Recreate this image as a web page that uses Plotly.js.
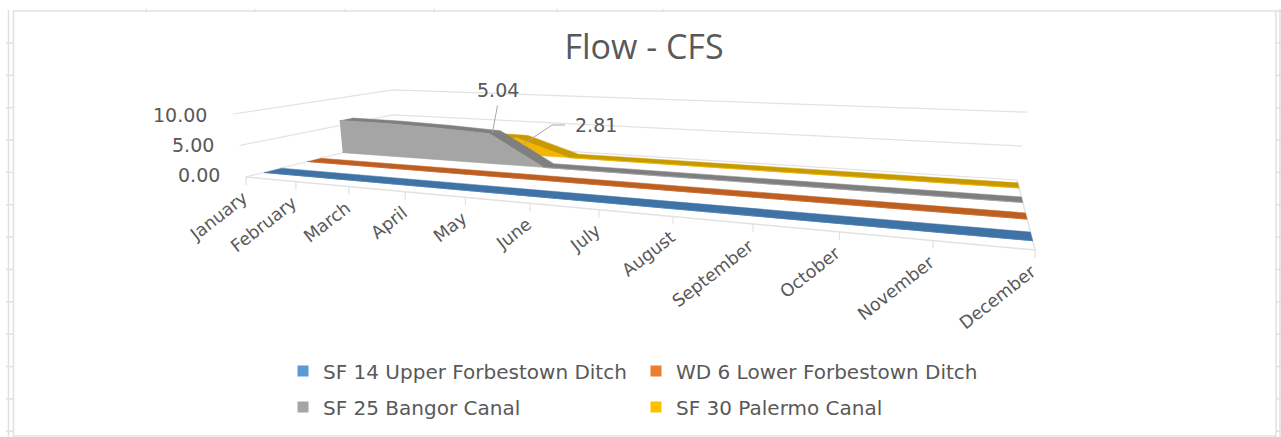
<!DOCTYPE html>
<html><head><meta charset="utf-8">
<script src="https://cdn.plot.ly/plotly-3.0.1.min.js"></script>
<style>html,body{margin:0;padding:0;background:#fff}#c{width:1281px;height:437px}</style></head>
<body><div id="c"></div>
<script>
const months=["January","February","March","April","May","June","July","August","September","October","November","December"];
const sf14=[0,0,0,0,0,0,0,0,0,0,0,0];
const wd6=[0,0,0,0,0,0,0,0,0,0,0,0];
const sf25=[5.9,5.8,5.5,5.04,0,0,0,0,0,0,0,0];
const sf30=[3.1,3.0,2.9,2.81,0,0,0,0,0,0,0,0];
const names=["SF 14 Upper Forbestown Ditch","WD 6 Lower Forbestown Ditch","SF 25 Bangor Canal","SF 30 Palermo Canal"];
const valueTicks=[0,5,10];
const swatch=["#5B9BD5","#ED7D31","#A5A5A5","#FFC000"];
const frontCol=["#4a7fb0","#c9662a","#A5A5A5","#F2B600"];
const topCol=["#3F72A5","#BE5F22","#7F7F7F","#C99A00"];
const bands=[[.10,.20],[.365,.45],[.605,.695],[.85,.945]];
const ink="#595959", rule="#e2e2e2", face="DejaVu Sans";

// oblique perspective of the Excel 3-D box: u = month 0..1, s = depth 0..1, v = value
const C={x0:246,y0:177,ax:0,ay:0,bx:0,by:0,g:0,h:0};
(function(){const [x0,y0,x1,y1,x2,y2,x3,y3]=[246,177,1035,250,1017,180,393,140];
 const d1x=x1-x2,d2x=x3-x2,sx=x0-x1+x2-x3,d1y=y1-y2,d2y=y3-y2,sy=y0-y1+y2-y3,det=d1x*d2y-d2x*d1y;
 C.g=(sx*d2y-d2x*sy)/det;C.h=(d1x*sy-sx*d1y)/det;
 C.ax=x1-x0+C.g*x1;C.bx=x3-x0+C.h*x3;C.ay=y1-y0+C.g*y1;C.by=y3-y0+C.h*y3;})();
function project(m,s,v){let u=m/11;u=u+.04*s*u*(1-u);const w=1+C.g*u+C.h*s;
 const x=(C.ax*u+C.bx*s+C.x0)/w,y=(C.ay*u+C.by*s+C.y0)/w;
 const lean=(1-u)*((1-s)*-1.3)+u*((1-s)*1.4+s*1.0);
 return [x+lean*v,y-6.3*v/w];}
function path(pts){return {x:pts.map(p=>p[0]),y:pts.map(p=>p[1])};}
function line(pts,color,width){return Object.assign(path(pts),{type:"scatter",mode:"lines",line:{color,width},hoverinfo:"skip",showlegend:false});}
function fill(pts,color){return Object.assign(path(pts),{type:"scatter",mode:"lines",fill:"toself",fillcolor:color,line:{color,width:.5},hoverinfo:"skip",showlegend:false});}

const traces=[];
// back wall and side wall gridlines
valueTicks.forEach(v=>{traces.push(line([project(0,0,v),project(0,1,v),project(11,1,v)],rule,1.2));});
// floor edges and month ticks
traces.push(line([project(0,0,0),project(11,0,0),project(11,1,0)],rule,1.5));
months.forEach((m,i)=>{const p=project(i,0,0);traces.push(line([p,[p[0],p[1]+8]],rule,1.2));});

const series=[sf14,wd6,sf25,sf30];
[3,2,1,0].forEach(k=>{const vals=series[k],[a,b]=bands[k];
 const frontEdge=vals.map((v,i)=>project(i,a,v)),backEdge=vals.map((v,i)=>project(i,b,v));
 traces.push(fill(frontEdge.concat(backEdge.slice().reverse()),topCol[k]));
 const base=vals.map((v,i)=>project(i,a,0)).reverse();
 traces.push(fill(frontEdge.concat(base),frontCol[k]));
});
// data-label leaders
const pa=project(3,bands[2][0],sf25[3]);
traces.push(line([[pa[0]+3,pa[1]-1],[pa[0]+8,pa[1]-28]],"#a6a6a6",1));
traces.push(line([[522,145],[552,125],[565,125]],"#a6a6a6",1));
// legend entries
names.forEach((n,i)=>traces.push({x:[null],y:[null],type:"scatter",mode:"markers",name:n,legend:i<2?"legend":"legend2",
 marker:{symbol:"square",size:11,color:swatch[i]},hoverinfo:"skip",showlegend:true}));

const anns=[];
months.forEach((m,i)=>{const p=project(i,0,0);
 anns.push({x:p[0]+8,y:p[1]+8,xref:"x",yref:"y",text:m,showarrow:false,textangle:-38,xanchor:"right",yanchor:"top",font:{family:face,size:17.5,color:ink}});});
valueTicks.forEach(v=>{const p=project(0,0,v);
 anns.push({x:p[0]-24,y:p[1]-2+.3*v,xref:"x",yref:"y",text:v.toFixed(2),showarrow:false,xanchor:"right",yanchor:"middle",font:{family:face,size:19,color:ink}});});
anns.push({x:498,y:90,xref:"x",yref:"y",text:sf25[3].toFixed(2),showarrow:false,font:{family:face,size:19,color:ink}});
anns.push({x:596,y:125,xref:"x",yref:"y",text:sf30[3].toFixed(2),showarrow:false,font:{family:face,size:19,color:ink}});

// spreadsheet frame behind the chart
const shapes=[];
const seg=(x0,y0,x1,y1)=>shapes.push({type:"line",xref:"x",yref:"y",x0,y0,x1,y1,line:{color:"#e0e0e0",width:1.5},layer:"below"});
seg(8.5,10,8.5,437);seg(13.5,11,13.5,437);seg(13,11,1281,11);seg(1276,11,1276,437);seg(1280,9,1280,437);seg(14,436,1276,436);
for(let i=0;i<13;i++){const y=43+i*32.35;seg(6,y,14,y);seg(1276,y,1281,y);}
[146,255,345,434,557,663].forEach(x=>seg(x,9,x,12));

const lf={family:face,size:20,color:ink};
Plotly.newPlot("c",traces,{
 width:1281,height:437,margin:{l:0,r:0,t:0,b:0},paper_bgcolor:"#fff",plot_bgcolor:"#fff",
 xaxis:{range:[0,1281],visible:false,fixedrange:true},
 yaxis:{range:[437,0],visible:false,fixedrange:true},
 title:{text:"Flow - CFS",x:644/1281,xanchor:"center",y:1-47/437,yanchor:"middle",font:{family:"Open Sans",size:34,color:ink}},
 legend:{orientation:"h",x:283/1281,y:1-371/437,xanchor:"left",yanchor:"middle",entrywidth:308,entrywidthmode:"pixels",font:lf,bgcolor:"rgba(0,0,0,0)"},
 legend2:{orientation:"h",x:283/1281,y:1-407/437,xanchor:"left",yanchor:"middle",entrywidth:308,entrywidthmode:"pixels",font:lf,bgcolor:"rgba(0,0,0,0)"},
 annotations:anns,shapes:shapes
},{displayModeBar:false,staticPlot:true});
</script></body></html>
